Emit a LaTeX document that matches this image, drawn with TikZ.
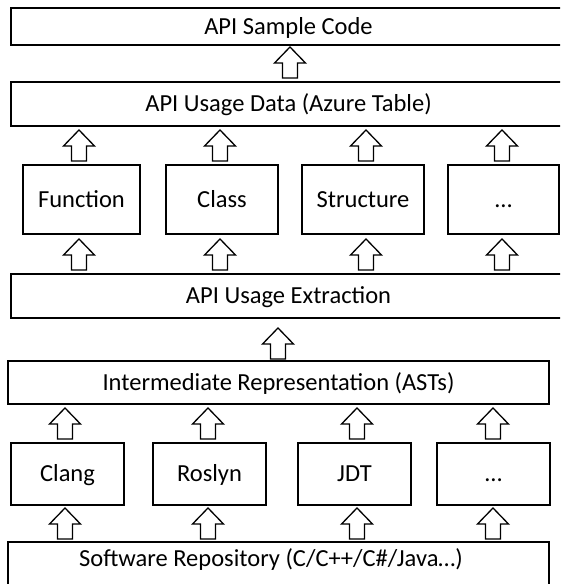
\documentclass[tikz,border=0pt]{standalone}
\usepackage{fontspec}
\setmainfont{Carlito}
\begin{document}
\begin{tikzpicture}[x=1pt,y=-1pt,
  box/.style={draw=black, line width=1.5pt, rectangle, inner sep=0pt,
    font=\fontsize{24.5}{29}\selectfont, text height=15.8pt, text depth=0pt},
  plain/.style={inner sep=0pt, font=\fontsize{24.5}{29}\selectfont, text height=15.8pt, text depth=0pt},
  uparr/.pic={\draw[line width=1.3pt, fill=white, line join=miter]
    (0,0) -- (15.5,16) -- (7.5,16) -- (7.5,31) -- (-7.5,31) -- (-7.5,16) -- (-15.5,16) -- cycle;}
]
\useasboundingbox (0,0) rectangle (560,584);
\clip (0,0) rectangle (560,584);

% wide boxes (top half run past the right edge)
\node[box, minimum width=555pt, minimum height=37pt] (sample) at (288.5,26.5) {API Sample Code};
\node[box, minimum width=555pt, minimum height=44pt] (usage) at (288.5,104) {API Usage Data (Azure Table)};
\node[box, minimum width=117pt, minimum height=69pt] (function) at (81.5,199.5) {Function};
\node[box, minimum width=112pt, minimum height=69pt] (class) at (222,199.5) {Class};
\node[box, minimum width=122pt, minimum height=69pt] (structure) at (363,199.5) {Structure};
\node[box, minimum width=111pt, minimum height=69pt] (dotsA) at (503.5,199.5) {\dots};
\node[box, minimum width=555pt, minimum height=44pt] (extraction) at (288.5,296) {API Usage Extraction};
\node[box, minimum width=541pt, minimum height=43pt] (inter) at (278.5,382.5) {Intermediate Representation (ASTs)};
\node[box, minimum width=113pt, minimum height=62pt] (clang) at (67.5,474) {Clang};
\node[box, minimum width=113pt, minimum height=62pt] (roslyn) at (209.5,474) {Roslyn};
\node[box, minimum width=113pt, minimum height=62pt] (jdt) at (354.5,474) {JDT};
\node[box, minimum width=113pt, minimum height=62pt] (dotsB) at (493.5,474) {\dots};
\node[box, minimum width=541pt, minimum height=50pt] (software) at (278.5,567) {};
\node[plain] (softwaretext) at (271,559) {Software Repository (C/C++/C\#/Java\dots)};

% block arrows
\pic at (290,47) {uparr};
\foreach \x in {79,220,366,502} {
  \pic at (\x,130) {uparr};
  \pic at (\x,239) {uparr};
}
\pic at (278,328) {uparr};
\foreach \x in {65,208,357,493} {
  \pic at (\x,408) {uparr};
  \pic at (\x,508) {uparr};
}
\end{tikzpicture}
\end{document}
